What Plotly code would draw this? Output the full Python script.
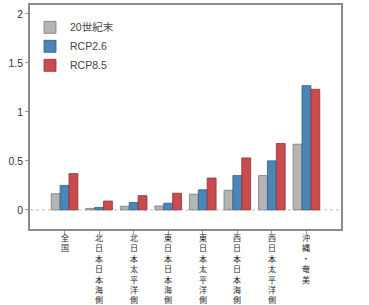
import plotly.graph_objects as go

categories = ["全国", "北日本日本海側", "北日本太平洋側", "東日本日本海側",
              "東日本太平洋側", "西日本日本海側", "西日本太平洋側", "沖縄・奄美"]
series_names = ["20世紀末", "RCP2.6", "RCP8.5"]
v_20c = [0.165, 0.015, 0.037, 0.04, 0.16, 0.20, 0.35, 0.67]
v_rcp26 = [0.25, 0.025, 0.075, 0.068, 0.205, 0.35, 0.50, 1.267]
v_rcp85 = [0.37, 0.09, 0.145, 0.17, 0.325, 0.53, 0.677, 1.23]
y_ticks = [0, 0.5, 1, 1.5, 2]
y_ticklabels = ["0", "0.5", "1", "1.5", "2"]

fills = ["#b5b5b5", "#4a86b8", "#c94b4d"]
edges = ["#7a7a7a", "#2e5d86", "#8a3335"]

FONT = "Liberation Sans, Noto Sans CJK JP, sans-serif"
CJK = "Noto Sans CJK JP, sans-serif"

xs = list(range(len(categories)))
fig = go.Figure()
for name, vals, fc, ec in zip(series_names, [v_20c, v_rcp26, v_rcp85], fills, edges):
    fig.add_trace(go.Bar(x=xs, y=vals, name=name, legendgroup=name,
                         marker=dict(color=fc, line=dict(color=ec, width=0.8))))

# vertical (stacked) category labels, one character per line
annotations = [dict(x=xi, xref="x", y=0, yref="paper", text="<br>".join(cat),
                    showarrow=False, xanchor="center", yanchor="top",
                    yshift=-1.5, borderpad=0, align="center",
                    font=dict(family=CJK, size=8, color="#1e1e1e"))
               for xi, cat in zip(xs, categories)]

fig.update_layout(
    width=369, height=305,
    margin=dict(l=30, r=28, t=3, b=76),
    plot_bgcolor="white", paper_bgcolor="white",
    barmode="group", bargap=0.23, bargroupgap=0,
    font=dict(family=FONT, size=10, color="#333"),
    showlegend=True,
    legend=dict(x=0.0, y=0.965, xanchor="left", yanchor="top",
                bgcolor="rgba(0,0,0,0)", tracegroupgap=0, itemwidth=30,
                font=dict(family=FONT, size=10.5, color="#444")),
    annotations=annotations,
    shapes=[dict(type="line", xref="paper", x0=0, x1=1, yref="y", y0=0, y1=0,
                 line=dict(color="#bbbbbb", width=1, dash="dot"), layer="below")],
)
fig.update_xaxes(range=[-1, 8], showticklabels=False, ticks="outside", ticklen=3,
                 tickcolor="#999", tickvals=xs, showgrid=False, zeroline=False,
                 showline=True, linecolor="#8a8a8a", linewidth=1.5, mirror=True)
fig.update_yaxes(range=[-0.195, 2.09], tickvals=y_ticks, ticktext=y_ticklabels,
                 ticks="outside", ticklen=3, tickcolor="#999", showgrid=False,
                 zeroline=False, showline=True, linecolor="#8a8a8a", linewidth=1.5,
                 mirror=True, tickfont=dict(size=10.5, color="#333"))
fig.write_html("out.html", config={"displayModeBar": False},
               post_script="document.body.style.margin='0';document.body.style.overflow='hidden';")
